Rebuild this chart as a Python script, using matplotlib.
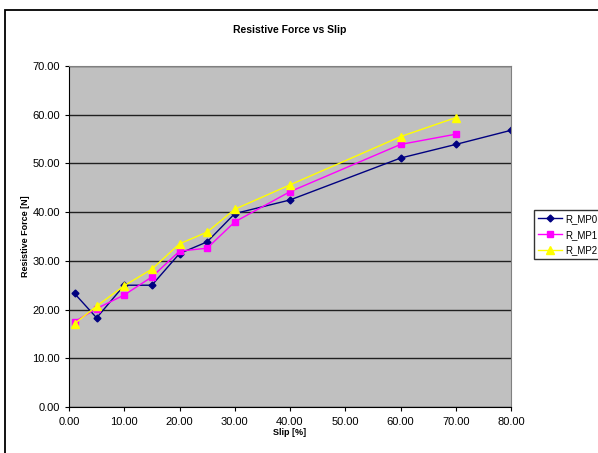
import matplotlib.pyplot as plt
from matplotlib.patches import Rectangle

plt.rcParams['font.family'] = ['Liberation Sans', 'DejaVu Sans']

slip = [1, 5, 10, 15, 20, 25, 30, 40, 60, 70, 80]
r_mp0 = [23.3, 18.3, 25.0, 25.0, 31.5, 33.9, 39.7, 42.5, 51.1, 53.9, 56.8]
slip_12 = [1, 5, 10, 15, 20, 25, 30, 40, 60, 70]
r_mp1 = [17.5, 20.2, 23.0, 26.7, 32.0, 32.6, 38.0, 44.2, 53.9, 56.0]
r_mp2 = [17.1, 20.7, 24.9, 28.3, 33.5, 35.9, 40.6, 45.6, 55.5, 59.4]

fig = plt.figure(figsize=(5.98, 4.53), dpi=100)
# outer chart frame (right and bottom edges run off the picture)
fig.patches.append(Rectangle((5 / 598, -0.01), 1.0, 1 - 10 / 453 + 0.01,
                             transform=fig.transFigure, fill=False,
                             edgecolor='black', linewidth=1.3))

ax = fig.add_axes([69 / 598, 46 / 453, 442 / 598, 341 / 453])
ax.set_facecolor('#C0C0C0')

ax.plot(slip, r_mp0, color='#000080', marker='D', markersize=3.5, linewidth=1, label='R_MP0')
ax.plot(slip_12, r_mp1, color='#FF00FF', marker='s', markersize=4.5, linewidth=1, label='R_MP1')
ax.plot(slip_12, r_mp2, color='#FFFF00', marker='^', markersize=5.5, linewidth=1, label='R_MP2')

ax.set_xlim(0, 80)
ax.set_ylim(0, 70)
ax.set_xticks(range(0, 81, 10))
ax.set_yticks(range(0, 71, 10))
ax.set_xticklabels(['%.2f' % v for v in range(0, 81, 10)])
ax.set_yticklabels(['%.2f' % v for v in range(0, 71, 10)])
ax.tick_params(labelsize=8, length=3, width=0.8, direction='out', colors='black')
ax.tick_params(axis='x', pad=4)
ax.grid(axis='y', color='#202020', linewidth=1)
ax.set_axisbelow(True)
for s in ['top', 'right']:
    ax.spines[s].set_color('#808080')
for s in ['left', 'bottom']:
    ax.spines[s].set_color('black')

ax.set_title('Resistive Force vs Slip', fontsize=7.5, fontweight='bold', pad=24)
ax.set_xlabel('Slip [%]', fontsize=6.5, fontweight='bold', labelpad=1)
ax.set_ylabel('Resistive Force [N]', fontsize=6.5, fontweight='bold', labelpad=1.5)

leg = fig.legend(loc='upper left', bbox_to_anchor=(534 / 598, 1 - 210 / 453),
                 fontsize=7, frameon=True, fancybox=False, edgecolor='black',
                 borderpad=0.4, handlelength=2.5, labelspacing=0.6, handletextpad=0.3,
                 borderaxespad=0)
leg.get_frame().set_linewidth(1)

fig.savefig('out.png', dpi=100)
